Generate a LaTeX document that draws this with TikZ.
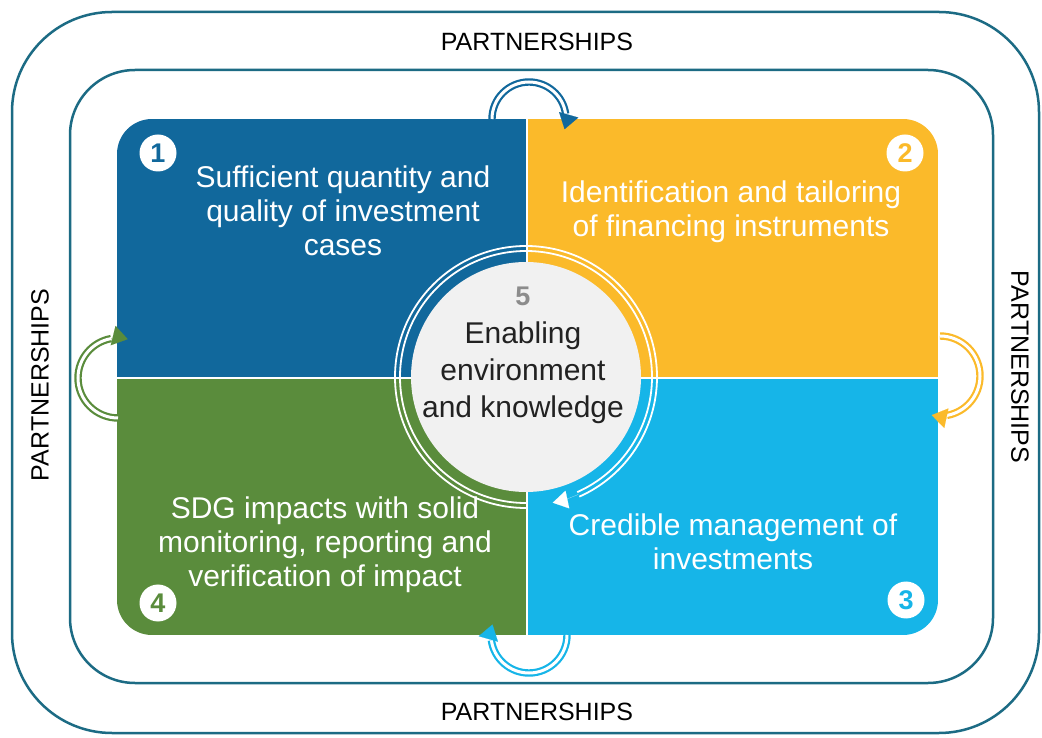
\documentclass[tikz,border=0pt]{standalone}
\usepackage{fontspec}
\setmainfont{Liberation Sans}
\usetikzlibrary{arrows.meta}
\definecolor{qblue}{HTML}{11689C}
\definecolor{qyellow}{HTML}{FBBA2A}
\definecolor{qgreen}{HTML}{5A8C3C}
\definecolor{qcyan}{HTML}{16B5E8}
\definecolor{framecol}{HTML}{1C6B84}
\definecolor{disccol}{HTML}{F1F1F1}
\definecolor{ink}{HTML}{222222}
\definecolor{fivecol}{HTML}{8C8C8C}
\begin{document}
\begin{tikzpicture}[x=1pt,y=1pt,
  frameline/.style={draw=framecol, line width=2.5pt},
  qtext/.style={text=white, align=center, font=\fontsize{30}{34}\selectfont},
  partner/.style={text=black, font=\fontsize{25}{30}\selectfont},
  numdisc/.style={circle, fill=white, minimum size=37pt, inner sep=0pt, font=\bfseries\fontsize{27}{27}\selectfont},
  looparc/.style={draw=#1, double=white, double distance=3pt, line width=2.2pt},
  looptip/.style={draw=#1, line width=0.1pt, -{Triangle[length=15pt,width=20pt]}},
  ringline/.style={draw=white, line width=1.8pt},
]
\useasboundingbox (0,0) rectangle (1042,737);
\fill[white] (0,0) rectangle (1042,737);

% frames
\draw[frameline, rounded corners=100pt] (12,4) rectangle (1039,725);
\draw[frameline, rounded corners=65pt] (70,54) rectangle (993,667);

% quadrants
\begin{scope}
  \clip[rounded corners=35pt] (117,102) rectangle (938,618);
  \fill[qblue] (117,359) rectangle (527,618);
  \fill[qyellow] (527,359) rectangle (938,618);
  \fill[qgreen] (117,102) rectangle (527,359);
  \fill[qcyan] (527,102) rectangle (938,359);
\end{scope}
\draw[white, line width=2pt] (527,102) -- (527,618);
\draw[white, line width=2pt] (117,359) -- (938,359);

% number discs
\node[numdisc, text=qblue] (n1) at (158,584) {1};
\node[numdisc, text=qyellow] (n2) at (905,584) {2};
\node[numdisc, text=qcyan] (n3) at (906,137) {3};
\node[numdisc, text=qgreen] (n4) at (158,134) {4};

% quadrant texts
\node[qtext] (t1) at (343,526) {Sufficient quantity and\\quality of investment\\cases};
\node[qtext] (t2) at (731,525) {Identification and tailoring\\of financing instruments};
\node[qtext] (t3) at (733,195) {Credible management of\\investments};
\node[qtext] (t4) at (325,192) {SDG impacts with solid\\monitoring, reporting and\\verification of impact};

% centre circle
\coordinate (c) at (526,360);
\fill[disccol] (c) circle (115);
\draw[ringline] (c) ++(270:126) arc[start angle=270, end angle=-66, radius=126];
\draw[ringline] (c) ++(270:131) arc[start angle=270, end angle=-66, radius=131];
\draw[draw=white, line width=0.1pt, -{Triangle[length=15pt,width=18pt]}] (c) ++(-66:128.5) arc[start angle=-66, end angle=-78, radius=128.5];
\node[text=fivecol, font=\bfseries\fontsize{27}{27}\selectfont] (t5n) at (523,441) {5};
\node[align=center, text=ink, font=\fontsize{30}{37}\selectfont] (t5) at (523,364) {Enabling\\environment\\and knowledge};

% loop arrows
\coordinate (lt) at (529,618);
\coordinate (ll) at (118,359);
\coordinate (lr) at (940,361);
\coordinate (lb) at (529,102);
\draw[looparc=qblue] (lt) ++(180:37) arc[start angle=180, end angle=8, radius=37];
\draw[looptip=qblue] (lt) ++(8:37) arc[start angle=8, end angle=-16, radius=37];
\draw[looparc=qgreen] (ll) ++(270:40) arc[start angle=270, end angle=100, radius=40];
\draw[looptip=qgreen] (ll) ++(100:40) arc[start angle=100, end angle=76, radius=40];
\draw[looparc=qyellow] (lr) ++(90:40) arc[start angle=90, end angle=-80, radius=40];
\draw[looptip=qyellow] (lr) ++(-80:40) arc[start angle=-80, end angle=-102, radius=40];
\draw[looparc=qcyan] (lb) ++(0:38) arc[start angle=0, end angle=-172, radius=38];
\draw[looptip=qcyan] (lb) ++(-172:38) arc[start angle=-172, end angle=-196, radius=38];

% partnerships
\node[partner] (pt) at (537,695) {PARTNERSHIPS};
\node[partner] (pb) at (537,25) {PARTNERSHIPS};
\node[partner, rotate=90] (pl) at (40,352) {PARTNERSHIPS};
\node[partner, rotate=-90] (pr) at (1020,370) {PARTNERSHIPS};
\end{tikzpicture}
\end{document}
